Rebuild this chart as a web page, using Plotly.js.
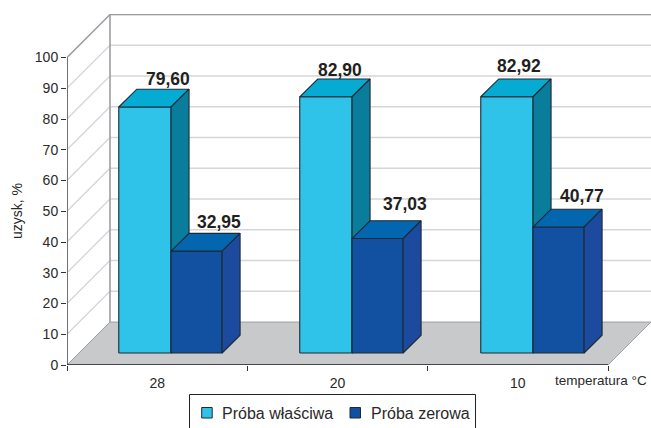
<!DOCTYPE html>
<html><head><meta charset="utf-8">
<script src="https://cdn.plot.ly/plotly-3.0.1.min.js"></script>
<style>html,body{margin:0;padding:0;background:#fff;overflow:hidden}</style>
</head><body><div id="c" style="width:651px;height:428px"></div>
<script>
// ---- data ----
const categories = ['28','20','10'];
const seriesNames = ['Próba właściwa','Próba zerowa'];
const proba = [79.60,82.90,82.92];
const zerowa = [32.95,37.03,40.77];
const yTicks = [0,10,20,30,40,50,60,70,80,90,100];
// ---- styles ----
const faceColors = [
  {front:'#2FC3EA',top:'#05ABD2',side:'#0A7C9C'},
  {front:'#1250A2',top:'#0566B0',side:'#1C4A9F'}];
const OUT='#1E2A33', FONT='"Liberation Sans",Arial,sans-serif', TXT='#2a2a2a';
// ---- scales (px per unit) ----
const PX=180.33, PY=3.075, PW=584, PH=351, L=67, B=365;
const WD=43/PX, WH=43/PY;               // wall depth
const BDX=18/PX, BDY=17.8/PY;           // bar depth
const BASE=12/PY;                       // bar base lift
const VS=1.005, STRIDE=181/PX;
const barStart=0.287, barW=[0.29,0.283];
const px=v=>(v-L)/PW, py=v=>(B-v)/PH;
const traces=[];
const poly=(xs,ys,fill,line,w)=>traces.push({x:xs,y:ys,mode:'lines',fill:fill?'toself':'none',fillcolor:fill||undefined,
  line:{color:line,width:w},hoverinfo:'skip',showlegend:false,cliponaxis:false});
// floor
poly([0,WD,3+WD,3,0],[0,WH,WH,0,0],'#C8C9CA','#8f9194',0.8);
// gridlines
let gx=[],gy=[];
yTicks.slice(1).forEach(v=>{gx.push(0,WD,3+WD,null);gy.push(v,v+WH,v+WH,null);});
poly(gx,gy,null,'#D6D6D8',1.3);
// wall frame
poly([0,WD,3+WD],[100,100+WH,100+WH],null,'#9C9EA2',1.4);
poly([WD,WD],[WH,100+WH],null,'#9C9EA2',1.6);
poly([0,WD],[0,WH],null,'#9C9EA2',1);
// axes
poly([0,0],[0,100],null,'#6f7073',2);
poly([0,3],[0,0],null,'#222',1.6);
// bars
const labels=[];
const shiftX=[[14,5,3],[13,18,14]], shiftY=[[19,18,22],[20,26,22]];
[proba,zerowa].forEach((vals,s)=>{
  vals.forEach((v,g)=>{
    const x0=g*STRIDE+barStart+(s?barW[0]:0), x1=x0+barW[s], y0=BASE, y1=BASE+v*VS, c=faceColors[s];
    poly([x0,x1,x1,x0,x0],[y0,y0,y1,y1,y0],c.front,OUT,1.1);
    poly([x0,x1,x1+BDX,x0+BDX,x0],[y1,y1,y1+BDY,y1+BDY,y1],c.top,OUT,1.1);
    poly([x1,x1+BDX,x1+BDX,x1,x1],[y0,y0+BDY,y1+BDY,y1,y0],c.side,OUT,1.1);
    labels.push({x:(x0+x1)/2+BDX/2,y:y1+BDY/2,xref:'x',yref:'y',xshift:shiftX[s][g],yshift:shiftY[s][g],
      text:v.toFixed(2).replace('.',','),showarrow:false,xanchor:'center',yanchor:'middle',
      font:{family:FONT,size:17.5,color:'#231f20',weight:700}});
  });
});
// legend box and swatches
const swatches=[201.7,350];
const legendTextX=[222,370.7];
const rect=(x0,y0,x1,y1,fill,line,w)=>({type:'rect',xref:'paper',yref:'paper',x0:px(x0),x1:px(x1),y0:py(y0),y1:py(y1),
  fillcolor:fill,line:{color:line,width:w},layer:'above'});
const shapes=[rect(189.5,394.5,475.5,432,'#fff','#222',1)];
const legendAnn=[];
seriesNames.forEach((n,s)=>{
  shapes.push(rect(swatches[s],407.5,swatches[s]+10.5,418,faceColors[s].front,OUT,1));
  legendAnn.push({xref:'paper',yref:'paper',x:px(legendTextX[s]),y:py(413),text:n,showarrow:false,xanchor:'left',yanchor:'middle',
    xshift:-2,font:{family:FONT,size:16,color:TXT}});
});
const layout={
  width:651,height:428,autosize:false,paper_bgcolor:'#fff',plot_bgcolor:'rgba(0,0,0,0)',
  margin:{l:L,r:0,t:14,b:63,pad:0},
  font:{family:FONT,size:14,color:TXT},
  xaxis:{range:[0,3+WD],showgrid:false,zeroline:false,showline:false,fixedrange:true,
    tickmode:'array',tickvals:[0.5,1.5,2.5],ticktext:categories,ticks:'',tickfont:{size:14,color:TXT},ticklabelstandoff:8,
    minor:{tickmode:'array',tickvals:[0,1,2,3],ticks:'outside',ticklen:5,tickcolor:'#333',tickwidth:1,showgrid:false}},
  yaxis:{range:[0,PH/PY],showgrid:false,zeroline:false,showline:false,fixedrange:true,
    tickmode:'array',tickvals:yTicks,ticks:'outside',ticklen:5,tickcolor:'#333',tickwidth:1,tickfont:{size:14,color:TXT}},
  shapes:shapes,
  annotations:labels.concat(legendAnn,[
    {xref:'paper',yref:'paper',x:px(17),y:py(211),text:'uzysk, %',textangle:-90,showarrow:false,
     xanchor:'center',yanchor:'middle',font:{family:FONT,size:14,color:TXT}},
    {xref:'paper',yref:'paper',x:px(649),y:py(381),text:'temperatura °C',showarrow:false,
     xanchor:'right',yanchor:'middle',font:{family:FONT,size:13.5,color:TXT}}
  ]),
  showlegend:false
};
Plotly.newPlot('c',traces,layout,{displayModeBar:false,staticPlot:true});
</script></body></html>
